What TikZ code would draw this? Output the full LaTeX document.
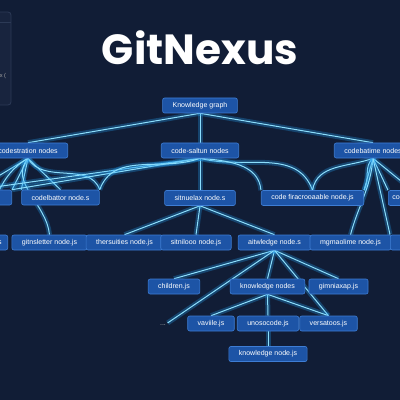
\documentclass[tikz,border=0pt]{standalone}
\usepackage{fontspec}
\usepackage{tikz}
\usetikzlibrary{backgrounds}
\newfontfamily\titlefont{Poppins}
\newfontfamily\boxfont{Liberation Sans}
\definecolor{fond}{RGB}{17,29,54}
\definecolor{panneau}{RGB}{24,36,62}
\definecolor{bordpan}{RGB}{44,58,86}
\definecolor{bleu}{RGB}{29,84,166}
\definecolor{bordbleu}{RGB}{62,125,212}
\definecolor{cyanclair}{RGB}{140,222,252}
\definecolor{cyanglow}{RGB}{35,160,240}
\newlength\px
\setlength\px{0.025cm}

\tikzset{
	boite/.style={draw=bordbleu, fill=bleu, rounded corners=2\px, line width=0.6\px,
		text=white, font=\boxfont\fontsize{5}{6}\selectfont,
		minimum height=15\px, inner xsep=10\px, inner ysep=0pt},
	lien/.style={draw=cyanclair, line width=1\px,
		preaction={draw=cyanglow, line width=5\px, opacity=0.3}},
}

\begin{document}
\begin{tikzpicture}[x=0.025cm, y=-0.025cm]
				\useasboundingbox (0,0) rectangle (400,400);
				\begin{scope}[on background layer]
					\fill[fond] (0,0) rectangle (400,400);
				\end{scope}
				
				% panneau coin gauche
				\draw[fill=panneau, draw=bordpan, rounded corners=3\px, line width=0.8\px] (-30,12) rectangle (11,105);
				\draw[bordpan, line width=0.8\px] (-30,22) -- (11,22);
				\node[text=gray!70, font=\boxfont\fontsize{4}{5}\selectfont] (pan) at (3,76) {x (};
				
				% titre
				\node[text=white, font=\titlefont\bfseries\fontsize{30}{32}\selectfont] (titre) at (200,48) {GitNexus};
				
				% niveau 0 et 1
				\node[boite] (kg) at (200,105.5) {Knowledge graph};
				\node[boite] (castr) at (28,150.5) {codestration nodes};
				\node[boite] (csalt) at (200,150.5) {code-saltun nodes};
				\node[boite] (cbat) at (373,150.5) {codebatime nodes};
				
				% niveau 2
				\node[boite, anchor=east, minimum width=72\px] (gaucheA) at (12,197.5) {};
				\node[boite] (cbattor) at (60.5,197.5) {codelbattor node.s};
				\node[boite] (snuelax) at (200,198) {sitnuelax node.s};
				\node[boite] (cfira) at (312.5,198) {code firacrooaable node.js};
				\node[boite, anchor=west, inner xsep=4\px] (droiteA) at (388,198) {code node.js};
				
				% niveau 3
				\node[boite, anchor=east, inner xsep=6\px] (gaucheB) at (8,242.5) {gitcore node.js};
				\node[boite] (gitns) at (49.5,242.5) {gitnsletter node.js};
				\node[boite] (thers) at (124.5,242.5) {thersuities node.js};
				\node[boite] (snilo) at (196,242.5) {sitnilooo node.js};
				\node[boite] (aitw) at (274.5,242.5) {aitwledge node.s};
				\node[boite] (mgma) at (350.5,242.5) {mgmaolime node.js};
				\node[boite, anchor=west, minimum width=60\px] (droiteB) at (390,242.5) {};
				
				% niveau 4 a 6
				\node[boite] (child) at (174,286.5) {children.js};
				\node[boite] (knodes) at (267.5,286.5) {knowledge nodes};
				\node[boite] (gimn) at (338.5,286.5) {gimniaxap.js};
				\node[text=gray!60, font=\boxfont\fontsize{5}{6}\selectfont, inner sep=1pt] (dots) at (163,325) {...};
				\node[boite] (vavi) at (211,323.5) {vaviile.js};
				\node[boite] (unoso) at (268,323.5) {unosocode.js};
				\node[boite] (versa) at (328.5,323.5) {versatoos.js};
				\node[boite] (knjs) at (268,354) {knowledge node.js};
				
				% liens lumineux
				\begin{scope}[on background layer]
					\draw[lien] (kg.south) -- (castr.north);
					\draw[lien] (kg.south) -- (csalt.north);
					\draw[lien] (kg.south) -- (cbat.north);
					
					\draw[lien] (castr.south) -- (gaucheA.north);
					\draw[lien] (castr.south) -- (gaucheA.north east);
					\draw[lien] (castr.south) -- (cbattor.north);
					\draw[lien] (castr.south) -- (cbattor.north west);
					\draw[lien] (castr.south) to[out=-60, in=110] (cbattor.north east);
					\draw[lien] (castr.south) to[out=-130, in=95] (gitns.north);
					\draw[lien] (castr.south) to[out=-150, in=60] (gaucheB.north);
					
					\draw[lien] (csalt.south) -- (snuelax.north);
					\draw[lien] (csalt.south) -- (gaucheA.north);
					\draw[lien] (csalt.south) -- (gaucheA.north east);
					\draw[lien] (csalt.south) to[out=200, in=70] (cbattor.north east);
					\draw[lien] (csalt.south) to[out=-15, in=110] (cfira.north);
					\draw[lien] (csalt.south) to[out=-5, in=95] (cfira.north west);
					
					\draw[lien] (cbat.south) to[out=-160, in=80] (cfira.north);
					\draw[lien] (cbat.south) to[out=-140, in=60] (cfira.north east);
					\draw[lien] (cbat.south) -- (cfira.north east);
					\draw[lien] (cbat.south) -- (droiteA.north west);
					\draw[lien] (cbat.south) -- (droiteA.north);
					\draw[lien] (cbat.south) to[out=-95, in=75] (mgma.north);
					\draw[lien] (cbat.south) -- (droiteB.north west);
					
					\draw[lien] (snuelax.south) -- (thers.north);
					\draw[lien] (snuelax.south) -- (snilo.north);
					\draw[lien] (snuelax.south) -- (aitw.north);
					
					\draw[lien] (aitw.south) -- (child.north);
					\draw[lien] (aitw.south) -- (knodes.north);
					\draw[lien] (aitw.south) -- (gimn.north);
					\draw[lien] (aitw.south) -- (dots.north east);
					\draw[lien] (aitw.south) -- (versa.north);
					
					\draw[lien] (knodes.south) -- (vavi.north);
					\draw[lien] (knodes.south) -- (unoso.north);
					\draw[lien] (knodes.south) -- (versa.north);
					\draw[lien] (unoso.south) -- (knjs.north);
				\end{scope}
			\end{tikzpicture}
\end{document}
